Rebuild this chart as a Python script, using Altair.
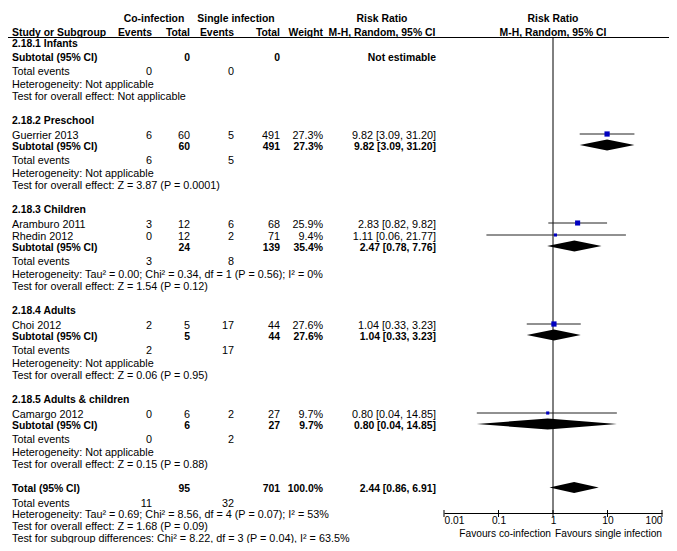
import altair as alt
import pandas as pd

# ---------------- data ----------------
groups = ["2.18.1 Infants", "2.18.2 Preschool", "2.18.3 Children",
          "2.18.4 Adults", "2.18.5 Adults & children"]

study_names = ["Guerrier 2013", "Aramburo 2011", "Rhedin 2012", "Choi 2012", "Camargo 2012"]
study_group = [1, 2, 2, 3, 4]
co_events = [6, 3, 0, 2, 0]
co_total = [60, 12, 12, 5, 6]
si_events = [5, 6, 2, 17, 2]
si_total = [491, 68, 71, 44, 27]
weights = [27.3, 25.9, 9.4, 27.6, 9.7]
rr = [9.82, 2.83, 1.11, 1.04, 0.80]
rr_lo = [3.09, 0.82, 0.06, 0.33, 0.04]
rr_hi = [31.20, 9.82, 21.77, 3.23, 14.85]

sub_co_total = [0, 60, 24, 5, 6]
sub_si_total = [0, 491, 139, 44, 27]
sub_co_events = [0, 6, 3, 2, 0]
sub_si_events = [0, 5, 8, 17, 2]
sub_weight = [None, 27.3, 35.4, 27.6, 9.7]
sub_rr = [None, 9.82, 2.47, 1.04, 0.80]
sub_lo = [None, 3.09, 0.78, 0.33, 0.04]
sub_hi = [None, 31.20, 7.76, 3.23, 14.85]
sub_heterogeneity = [
    "Heterogeneity: Not applicable",
    "Heterogeneity: Not applicable",
    "Heterogeneity: Tau² = 0.00; Chi² = 0.34, df = 1 (P = 0.56); I² = 0%",
    "Heterogeneity: Not applicable",
    "Heterogeneity: Not applicable",
]
sub_overall = [
    "Test for overall effect: Not applicable",
    "Test for overall effect: Z = 3.87 (P = 0.0001)",
    "Test for overall effect: Z = 1.54 (P = 0.12)",
    "Test for overall effect: Z = 0.06 (P = 0.95)",
    "Test for overall effect: Z = 0.15 (P = 0.88)",
]

total_co_total = 95
total_si_total = 701
total_co_events = 11
total_si_events = 32
total_weight = 100.0
total_rr = 2.44
total_lo = 0.86
total_hi = 6.91
total_heterogeneity = "Heterogeneity: Tau² = 0.69; Chi² = 8.56, df = 4 (P = 0.07); I² = 53%"
total_overall = "Test for overall effect: Z = 1.68 (P = 0.09)"
subgroup_test = "Test for subgroup differences: Chi² = 8.22, df = 3 (P = 0.04), I² = 63.5%"

tick_values = [0.01, 0.1, 1, 10, 100]
null_value = [1]
favours_left = "Favours co-infection"
favours_right = "Favours single infection"

# ---------------- layout ----------------
FONT = "Liberation Sans"
FS = 10.8
FS_B = 10.4
FS_AX = 10.2
DY = 1.5
W, H = 661, 535
OFF = 8


def px(v):
    return v - OFF


cols = {
    "label": (12, "left"), "ce": (152, "right"), "ct": (190, "right"),
    "se": (234, "right"), "st": (280, "right"), "w": (323, "right"),
    "rr": (436, "right"), "h_co": (154, "center"), "h_si": (236, "center"),
    "h_rr": (382, "center"), "h_plot": (553, "center"),
}

texts = []


def add(y, text, col, bold=False):
    texts.append(dict(y=y, text=str(text), col=col, bold=bool(bold)))


def fmt_ci(e, l, h):
    return f"{e:.2f} [{l:.2f}, {h:.2f}]"


# headers
add(17, "Co-infection", "h_co", True)
add(17, "Single infection", "h_si", True)
add(17, "Risk Ratio", "h_rr", True)
add(17, "Risk Ratio", "h_plot", True)
for c, t in [("label", "Study or Subgroup"), ("ce", "Events"), ("ct", "Total"),
             ("se", "Events"), ("st", "Total"), ("w", "Weight"),
             ("h_rr", "M-H, Random, 95% CI"), ("h_plot", "M-H, Random, 95% CI")]:
    add(31.5, t, c, True)

study_rows = []
diamonds = []


def add_diamond(i, yc, e, l, h, hh=5.5):
    diamonds.append(dict(id=i, x=l, yt=yc, yb=yc))
    diamonds.append(dict(id=i, x=e, yt=yc - hh, yb=yc + hh))
    diamonds.append(dict(id=i, x=h, yt=yc, yb=yc))


y = 42.0
for g, gname in enumerate(groups):
    if g > 0:
        y += 24
    add(y, gname, "label", True)
    idx = [i for i, sg in enumerate(study_group) if sg == g]
    for k, i in enumerate(idx):
        y += 14.5 if k == 0 else 12
        add(y, study_names[i], "label")
        add(y, co_events[i], "ce")
        add(y, co_total[i], "ct")
        add(y, si_events[i], "se")
        add(y, si_total[i], "st")
        add(y, f"{weights[i]:.1f}%", "w")
        add(y, fmt_ci(rr[i], rr_lo[i], rr_hi[i]), "rr")
        study_rows.append(dict(y=y, rr=rr[i], lo=rr_lo[i], hi=rr_hi[i], w=weights[i]))
    y += 11 if idx else 14
    add(y, "Subtotal (95% CI)", "label", True)
    add(y, sub_co_total[g], "ct", True)
    add(y, sub_si_total[g], "st", True)
    if sub_rr[g] is None:
        add(y, "Not estimable", "rr", True)
    else:
        add(y, f"{sub_weight[g]:.1f}%", "w", True)
        add(y, fmt_ci(sub_rr[g], sub_lo[g], sub_hi[g]), "rr", True)
        add_diamond(g, y, sub_rr[g], sub_lo[g], sub_hi[g])
    y += 14.5
    add(y, "Total events", "label")
    add(y, sub_co_events[g], "ce")
    add(y, sub_si_events[g], "se")
    y += 12.5
    add(y, sub_heterogeneity[g], "label")
    y += 12.5
    add(y, sub_overall[g], "label")

y += 24
add(y, "Total (95% CI)", "label", True)
add(y, total_co_total, "ct", True)
add(y, total_si_total, "st", True)
add(y, f"{total_weight:.1f}%", "w", True)
add(y, fmt_ci(total_rr, total_lo, total_hi), "rr", True)
add_diamond(99, y, total_rr, total_lo, total_hi)
y += 14.5
add(y, "Total events", "label")
add(y, total_co_events, "ce")
add(y, total_si_events, "se")
y += 11.5
add(y, total_heterogeneity, "label")
y += 12
add(y, total_overall, "label")
y += 12
add(y, subgroup_test, "label")

# ---------------- chart ----------------
yscale = alt.Scale(domain=[OFF, OFF + H], range=[0, H], nice=False, zero=False)
xscale = alt.Scale(type="log", domain=[0.01, 100], range=[px(444), px(662)], nice=False)
AXIS_Y = 513
xaxis = alt.Axis(values=tick_values, format="~g", ticks=False, grid=False,
                 domainColor="black", domainWidth=1, labelColor="black",
                 labelFont=FONT, labelFontSize=FS_AX, labelPadding=2,
                 labelFlush=True, offset=px(AXIS_Y) - H, title=None, orient="bottom")
Y = lambda f: alt.Y(f, scale=yscale, axis=None)

layers = []

# header rule
layers.append(alt.Chart(pd.DataFrame({"a": [0]})).mark_rule(color="black", strokeWidth=1).encode(
    x=alt.value(0), x2=alt.value(662), y=alt.value(px(37.5))))

tdf = pd.DataFrame(texts)
for (col, bold), sub in tdf.groupby(["col", "bold"]):
    xpx, align = cols[col]
    layers.append(alt.Chart(sub).mark_text(
        align=align, baseline="middle", font=FONT, fontSize=FS_B if bold else FS, dy=DY,
        fontWeight="bold" if bold else "normal", color="black").encode(
        x=alt.value(px(xpx)), y=Y("y:Q"), text="text:N"))

# null line
layers.append(alt.Chart(pd.DataFrame({"x": null_value})).mark_rule(color="black", strokeWidth=1).encode(
    x=alt.X("x:Q", scale=xscale, axis=xaxis), y=alt.value(px(37.5)), y2=alt.value(px(AXIS_Y))))

# axis ticks (crossing the domain line)
layers.append(alt.Chart(pd.DataFrame({"x": tick_values})).mark_rule(color="black", strokeWidth=1).encode(
    x=alt.X("x:Q", scale=xscale, axis=xaxis), y=alt.value(px(AXIS_Y - 3)), y2=alt.value(px(AXIS_Y + 4))))

sdf = pd.DataFrame(study_rows)
layers.append(alt.Chart(sdf).mark_rule(color="#222222", strokeWidth=1).encode(
    x=alt.X("lo:Q", scale=xscale, axis=xaxis), x2="hi:Q", y=Y("y:Q")))
layers.append(alt.Chart(sdf).mark_square(color="#0000c0", opacity=1).encode(
    x=alt.X("rr:Q", scale=xscale, axis=xaxis), y=Y("y:Q"),
    size=alt.Size("w:Q", scale=alt.Scale(domain=[0, 30], range=[0, 30]), legend=None)))

ddf = pd.DataFrame(diamonds)
layers.append(alt.Chart(ddf).mark_area(color="black", orient="vertical", interpolate="linear", opacity=1).encode(
    x=alt.X("x:Q", scale=xscale, axis=xaxis), y=Y("yt:Q"), y2="yb:Q", detail="id:N"))

fav = pd.DataFrame({"x": null_value, "l": [favours_left], "r": [favours_right]})
layers.append(alt.Chart(fav).mark_text(align="right", baseline="middle", dx=-2, dy=DY, font=FONT, fontSize=FS_AX, color="black").encode(
    x=alt.X("x:Q", scale=xscale, axis=xaxis), y=alt.value(px(532)), text="l:N"))
layers.append(alt.Chart(fav).mark_text(align="left", baseline="middle", dx=2, dy=DY, font=FONT, fontSize=FS_AX, color="black").encode(
    x=alt.X("x:Q", scale=xscale, axis=xaxis), y=alt.value(px(532)), text="r:N"))

chart = alt.layer(*layers).properties(
    width=W, height=H, padding=0, autosize=alt.AutoSizeParams(type="none"),
    background="white",
).configure_view(stroke=None)

chart.save("out.html", embed_options={"renderer": "svg", "actions": False})
